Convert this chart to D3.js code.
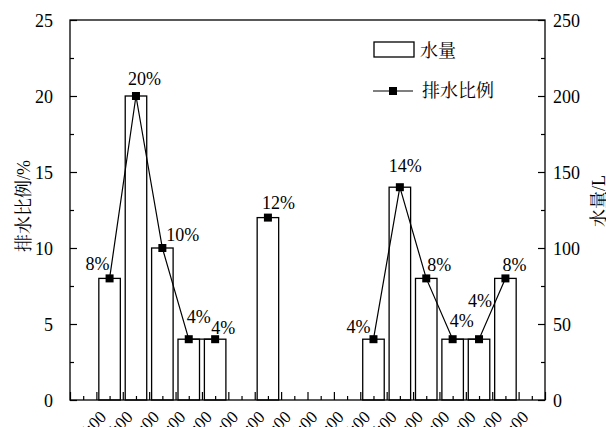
<!DOCTYPE html>
<html>
<head>
<meta charset="utf-8">
<script src="https://cdn.jsdelivr.net/npm/d3@7"></script>
<style>
  html, body { margin: 0; padding: 0; background: #fff; }
  svg { display: block; }
</style>
</head>
<body>
<svg id="chart" width="606" height="427"></svg>
<script>
// Hourly drainage: water volume (bars, right axis) and share of daily discharge (line, left axis)
const hours = ["6:00","7:00","8:00","9:00","10:00","11:00","12:00","13:00","14:00",
               "15:00","16:00","17:00","18:00","19:00","20:00","21:00","22:00"];
const waterVolume = [80, 200, 100, 40, 40, 0, 120, 0, 0, 0, 40, 140, 80, 40, 40, 80];   // L
const drainRatio  = [8, 20, 10, 4, 4, 0, 12, 0, 0, 0, 4, 14, 8, 4, 4, 8];               // %
const leftTicks  = [0, 5, 10, 15, 20, 25];
const rightTicks = [0, 50, 100, 150, 200, 250];

// hand-placed offsets for the percentage labels (dx, dy from the marker)
const labelOffsets = [[-24,-8],[-8,-11],[4,-7],[-2,-16],[-4,-5],[0,0],[-6,-9],[0,0],[0,0],[0,0],
                      [-27,-6],[-11,-15],[1,-7],[-3,-12],[-11,-32],[-3,-7]];

const SERIF = '"Liberation Serif", "Times New Roman", "DejaVu Serif", serif';
const CJK = '"Noto Serif CJK SC", "Noto Sans CJK SC", sans-serif';

const svg = d3.select("#chart");
const L = 70, R = 545, T = 20, B = 400;

const x = d3.scaleLinear().domain([0, 18]).range([L, R]);
const yL = d3.scaleLinear().domain([0, 25]).range([B, T]);
const yR = d3.scaleLinear().domain([0, 250]).range([B, T]);

const slot = x(1) - x(0);
const barW = slot * 0.815;
const cx = i => x(i + 1.5);

// bars: water volume
svg.append("g").selectAll("rect")
  .data(waterVolume.map((v, i) => ({v, i})).filter(d => d.v > 0))
  .join("rect")
  .attr("x", d => cx(d.i) - barW / 2)
  .attr("y", d => yR(d.v))
  .attr("width", barW)
  .attr("height", d => yR(0) - yR(d.v))
  .attr("fill", "#fff")
  .attr("stroke", "#000")
  .attr("stroke-width", 1.3);

// axes
function styleAxis(g) {
  g.attr("font-family", null).attr("font-size", null);
  g.select(".domain").remove();
  g.selectAll("line").attr("stroke", "#000").attr("stroke-width", 1.2);
  g.selectAll("text").style("font-family", SERIF).style("font-size", "18px")
    .attr("fill", "#000").attr("dy", "0.34em");
}

svg.append("g").attr("transform", `translate(0,${B})`)
  .call(d3.axisBottom(x).tickValues(d3.range(0, 19)).tickSize(-8).tickFormat(""))
  .call(styleAxis);
svg.append("g").attr("transform", `translate(0,${B})`)
  .call(d3.axisBottom(x).tickValues(d3.range(0.5, 18, 1)).tickSize(-4).tickFormat(""))
  .call(styleAxis);

svg.append("g").attr("transform", `translate(${L},0)`)
  .call(d3.axisLeft(yL).tickValues(leftTicks).tickSize(-7).tickPadding(17))
  .call(styleAxis);
svg.append("g").attr("transform", `translate(${L},0)`)
  .call(d3.axisLeft(yL).tickValues(d3.range(2.5, 25, 5)).tickSize(-4).tickFormat(""))
  .call(styleAxis);

svg.append("g").attr("transform", `translate(${R},0)`)
  .call(d3.axisRight(yR).tickValues(rightTicks).tickSize(-7).tickPadding(8))
  .call(styleAxis);
svg.append("g").attr("transform", `translate(${R},0)`)
  .call(d3.axisRight(yR).tickValues(d3.range(25, 250, 50)).tickSize(-4).tickFormat(""))
  .call(styleAxis);

// frame
svg.append("rect")
  .attr("x", L).attr("y", T).attr("width", R - L).attr("height", B - T)
  .attr("fill", "none").attr("stroke", "#000").attr("stroke-width", 1.3);

// rotated hour labels (the lower part runs past the bottom edge)
svg.append("g").selectAll("text")
  .data(hours)
  .join("text")
  .style("font-family", SERIF)
  .style("font-size", "17px")
  .attr("text-anchor", "end")
  .attr("transform", (d, i) => `translate(${x(i + 1) + 11},${418}) rotate(-45)`)
  .text(d => d);

// drainage ratio line with markers
const pts = drainRatio.map((v, i) => ({v, i}));
svg.append("path")
  .datum(pts)
  .attr("fill", "none")
  .attr("stroke", "#000")
  .attr("stroke-width", 1.2)
  .attr("d", d3.line().defined(d => d.v > 0).x(d => cx(d.i)).y(d => yL(d.v)));

const shown = pts.filter(d => d.v > 0);
svg.append("g").selectAll("rect")
  .data(shown)
  .join("rect")
  .attr("x", d => cx(d.i) - 4).attr("y", d => yL(d.v) - 4)
  .attr("width", 8).attr("height", 8)
  .attr("fill", "#000");

svg.append("g").selectAll("text")
  .data(shown)
  .join("text")
  .style("font-family", SERIF)
  .style("font-size", "18px")
  .attr("x", d => cx(d.i) + labelOffsets[d.i][0])
  .attr("y", d => yL(d.v) + labelOffsets[d.i][1])
  .text(d => d.v + "%");

// legend
const lg = svg.append("g");
lg.append("rect").attr("x", 374).attr("y", 42).attr("width", 40).attr("height", 15)
  .attr("fill", "#fff").attr("stroke", "#000").attr("stroke-width", 1.3);
lg.append("text").style("font-family", CJK).style("font-size", "18px")
  .attr("x", 420).attr("y", 57).text("水量");
lg.append("line").attr("x1", 373).attr("x2", 413).attr("y1", 91).attr("y2", 91)
  .attr("stroke", "#000").attr("stroke-width", 1.2);
lg.append("rect").attr("x", 389).attr("y", 87).attr("width", 8).attr("height", 8).attr("fill", "#000");
lg.append("text").style("font-family", CJK).style("font-size", "18px")
  .attr("x", 422).attr("y", 97).text("排水比例");

// axis titles
const lt = svg.append("text")
  .attr("transform", "translate(30,206) rotate(-90)")
  .attr("text-anchor", "middle")
  .style("font-size", "18px");
lt.append("tspan").style("font-family", CJK).text("排水比例");
lt.append("tspan").style("font-family", SERIF).text("/%");

const rt = svg.append("text")
  .attr("transform", "translate(605,201) rotate(-90)")
  .attr("text-anchor", "middle")
  .style("font-size", "18px");
rt.append("tspan").style("font-family", CJK).text("水量");
rt.append("tspan").style("font-family", SERIF).text("/L");
</script>
</body>
</html>
